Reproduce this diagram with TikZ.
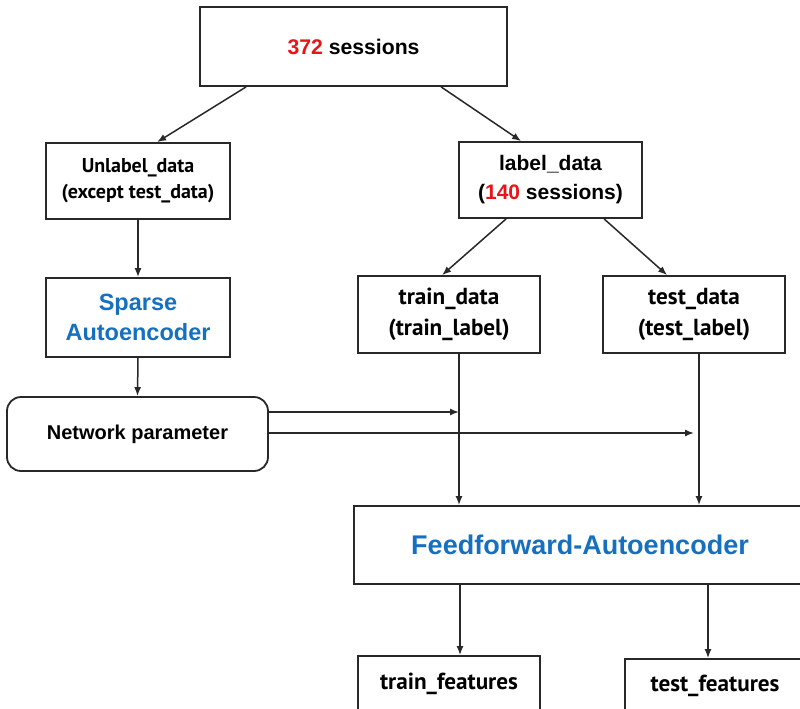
\documentclass[tikz,border=0pt]{standalone}
\usepackage{fontspec}
\setmainfont{Liberation Sans}
\newfontfamily\ptsans{PT Sans}
\usetikzlibrary{arrows.meta}
\definecolor{numred}{RGB}{232,20,26}
\definecolor{aeblue}{RGB}{22,112,192}
\definecolor{edge}{RGB}{40,40,40}
\tikzset{
  box/.style={draw=edge, line width=1.8pt, inner sep=0pt, align=center, fill=white},
  arr/.style={draw=edge, line width=1.5pt, -{Latex[length=9pt,width=7pt]}},
  ptb/.style={font=\ptsans\bfseries\fontsize{23.2}{31}\selectfont},
}
\begin{document}
\begin{tikzpicture}[x=1pt,y=-1pt]
\useasboundingbox (0,0) rectangle (800,709);
\clip (0,0) rectangle (800,709);
\fill[white] (0,0) rectangle (800,709);

\node[box, minimum width=307pt, minimum height=79pt, font=\bfseries\fontsize{21.2}{25}\selectfont] (top) at (353.5,46.5) {{\color{numred}372} sessions};
\node[box, minimum width=184pt, minimum height=76pt, font=\ptsans\bfseries\fontsize{20}{26}\selectfont] (unl) at (138,181) {Unlabel\_data\\(except test\_data)};
\node[box, minimum width=183pt, minimum height=76pt, font=\bfseries\fontsize{21}{29}\selectfont] (lab) at (550.5,180) {label\_data\\({\color{numred}140} sessions)};
\node[box, minimum width=184pt, minimum height=79pt, text=aeblue, font=\bfseries\fontsize{23.5}{30}\selectfont] (spa) at (138,317.5) {Sparse\\Autoencoder};
\node[box, rounded corners=14pt, minimum width=261pt, minimum height=74pt, font=\bfseries\fontsize{20}{23}\selectfont] (net) at (137.5,434) {Network parameter};
\node[box, minimum width=182pt, minimum height=77pt, ptb] (trd) at (449,314.5) {train\_data\\(train\_label)};
\node[box, minimum width=182pt, minimum height=77pt, ptb] (ted) at (694,314.5) {test\_data\\(test\_label)};
\node[box, minimum width=452pt, minimum height=78pt, text=aeblue, font=\bfseries\fontsize{27}{30}\selectfont] (ff) at (580,545) {Feedforward-Autoencoder};
\node[box, minimum width=182pt, minimum height=56pt, ptb] (trf) at (449,684) {train\_features};
\node[box, minimum width=180pt, minimum height=54pt, ptb] (tef) at (715,686) {test\_features};

\draw[arr] ([xshift=47pt]top.south west) -- ([xshift=112pt]unl.north west);
\draw[arr] ([xshift=242pt]top.south west) -- ([xshift=63pt]lab.north west);
\draw[arr] (unl.south) -- (spa.north);
\draw[arr] (spa.south) -- (net.north);
\draw[arr] ([xshift=48pt]lab.south west) -- ([xshift=85pt]trd.north west);
\draw[arr] ([xshift=146pt]lab.south west) -- ([xshift=65pt]ted.north west);
\draw[arr] ([xshift=10pt]trd.south) -- ([xshift=10pt]trd.south |- ff.north);
\draw[arr] ([xshift=5pt]ted.south) -- ([xshift=5pt]ted.south |- ff.north);
\coordinate (j1) at (459,412);
\coordinate (j2) at (694,433);
\draw[arr] (net.east |- j1) -- (j1);
\draw[arr] (net.east |- j2) -- (j2);
\draw[arr] ([xshift=11pt]trf.north |- ff.south) -- ([xshift=11pt]trf.north);
\draw[arr] ([xshift=-7pt]tef.north |- ff.south) -- ([xshift=-7pt]tef.north);
\end{tikzpicture}
\end{document}
